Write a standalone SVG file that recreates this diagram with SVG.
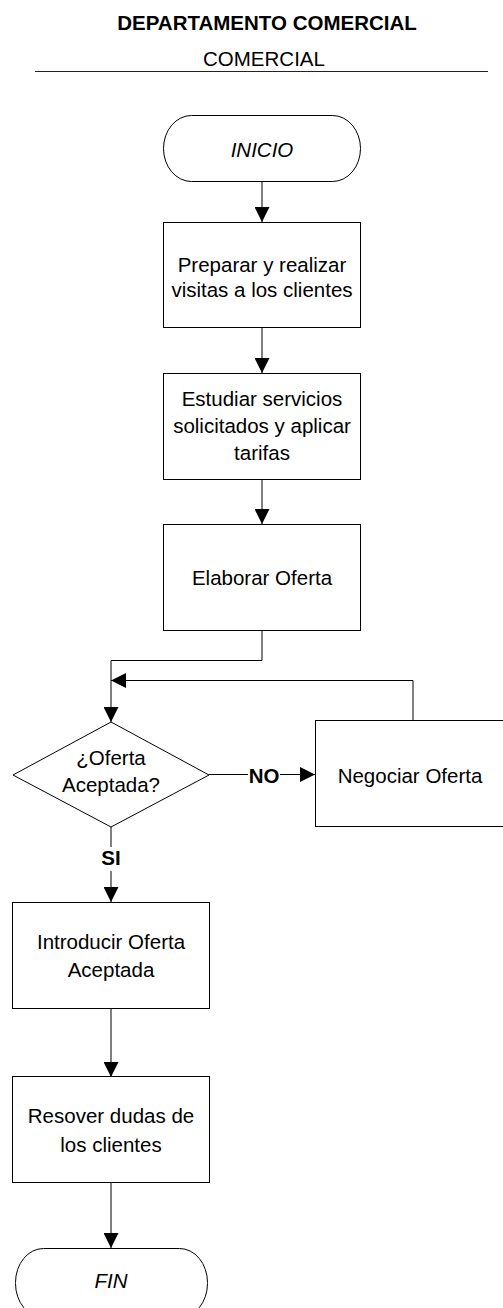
<svg xmlns="http://www.w3.org/2000/svg" width="503" height="1308" viewBox="0 0 503 1308">
  <style>
    .shape { fill: #ffffff; stroke: #000000; stroke-width: 1; }
    .conn { fill: none; stroke: #000000; stroke-width: 1; }
    .lbl { font-family: "Liberation Sans", Arial, sans-serif; font-size: 20.5px; fill: #000000; text-anchor: middle; }
    .it { font-style: italic; }
    .b { font-weight: bold; }
  </style>
  <defs>
    <marker id="arrow" markerUnits="userSpaceOnUse" markerWidth="15" markerHeight="15" refX="15" refY="7.5" orient="auto">
      <path d="M0,0 L15,7.5 L0,15 z" fill="#000000"/>
    </marker>
  </defs>
  <rect width="503" height="1308" fill="#ffffff"/>

  <!-- header -->
  <g id="header">
    <text class="lbl b" x="267" y="30">DEPARTAMENTO COMERCIAL</text>
    <text class="lbl" x="264" y="66">COMERCIAL</text>
    <line x1="35" y1="71.5" x2="488" y2="71.5" stroke="#222222" stroke-width="1"/>
  </g>

  <!-- connectors -->
  <g id="connectors">
    <path class="conn" d="M262,182 V222" marker-end="url(#arrow)"/>
    <path class="conn" d="M262,327 V373" marker-end="url(#arrow)"/>
    <path class="conn" d="M262,479 V524" marker-end="url(#arrow)"/>
    <path class="conn" d="M262,631 V660.5 H111 V722" marker-end="url(#arrow)"/>
    <path class="conn" d="M413,721 V680.5 H111" marker-end="url(#arrow)"/>
    <path class="conn" d="M209,774.5 H248"/>
    <path class="conn" d="M280,774.5 H315" marker-end="url(#arrow)"/>
    <text class="lbl b" x="264" y="782.5">NO</text>
    <path class="conn" d="M111,827 V847"/>
    <path class="conn" d="M111,871 V902" marker-end="url(#arrow)"/>
    <text class="lbl b" x="111" y="864.5">SI</text>
    <path class="conn" d="M111,1009 V1077" marker-end="url(#arrow)"/>
    <path class="conn" d="M111,1183 V1248" marker-end="url(#arrow)"/>
  </g>

  <!-- nodes -->
  <g id="inicio">
    <rect class="shape" x="163.5" y="115.5" width="197" height="66" rx="28" ry="33"/>
    <text class="lbl it" x="262" y="157">INICIO</text>
  </g>

  <g id="preparar">
    <rect class="shape" x="163.5" y="222.5" width="197" height="105"/>
    <text class="lbl" x="262" y="272">Preparar y realizar</text>
    <text class="lbl" x="262" y="297">visitas a los clientes</text>
  </g>

  <g id="estudiar">
    <rect class="shape" x="163.5" y="373.5" width="197" height="106"/>
    <text class="lbl" x="262" y="406">Estudiar servicios</text>
    <text class="lbl" x="262" y="433">solicitados y aplicar</text>
    <text class="lbl" x="262" y="460">tarifas</text>
  </g>

  <g id="elaborar">
    <rect class="shape" x="163.5" y="524.5" width="197" height="106"/>
    <text class="lbl" x="262" y="585">Elaborar Oferta</text>
  </g>

  <g id="decision">
    <polygon class="shape" points="111,722 209,775 111,827 13,775"/>
    <text class="lbl" x="111" y="765">¿Oferta</text>
    <text class="lbl" x="111" y="792">Aceptada?</text>
  </g>

  <g id="negociar">
    <rect class="shape" x="315.5" y="720.5" width="197" height="106"/>
    <text class="lbl" x="410" y="783">Negociar Oferta</text>
  </g>

  <g id="introducir">
    <rect class="shape" x="12.5" y="902.5" width="197" height="106"/>
    <text class="lbl" x="111" y="949">Introducir Oferta</text>
    <text class="lbl" x="111" y="977">Aceptada</text>
  </g>

  <g id="resolver">
    <rect class="shape" x="12.5" y="1076.5" width="197" height="106"/>
    <text class="lbl" x="111" y="1123">Resover dudas de</text>
    <text class="lbl" x="111" y="1152">los clientes</text>
  </g>

  <g id="fin">
    <rect class="shape" x="15.5" y="1248.5" width="192" height="69" rx="28" ry="34"/>
    <text class="lbl it" x="111" y="1288">FIN</text>
  </g>
</svg>
